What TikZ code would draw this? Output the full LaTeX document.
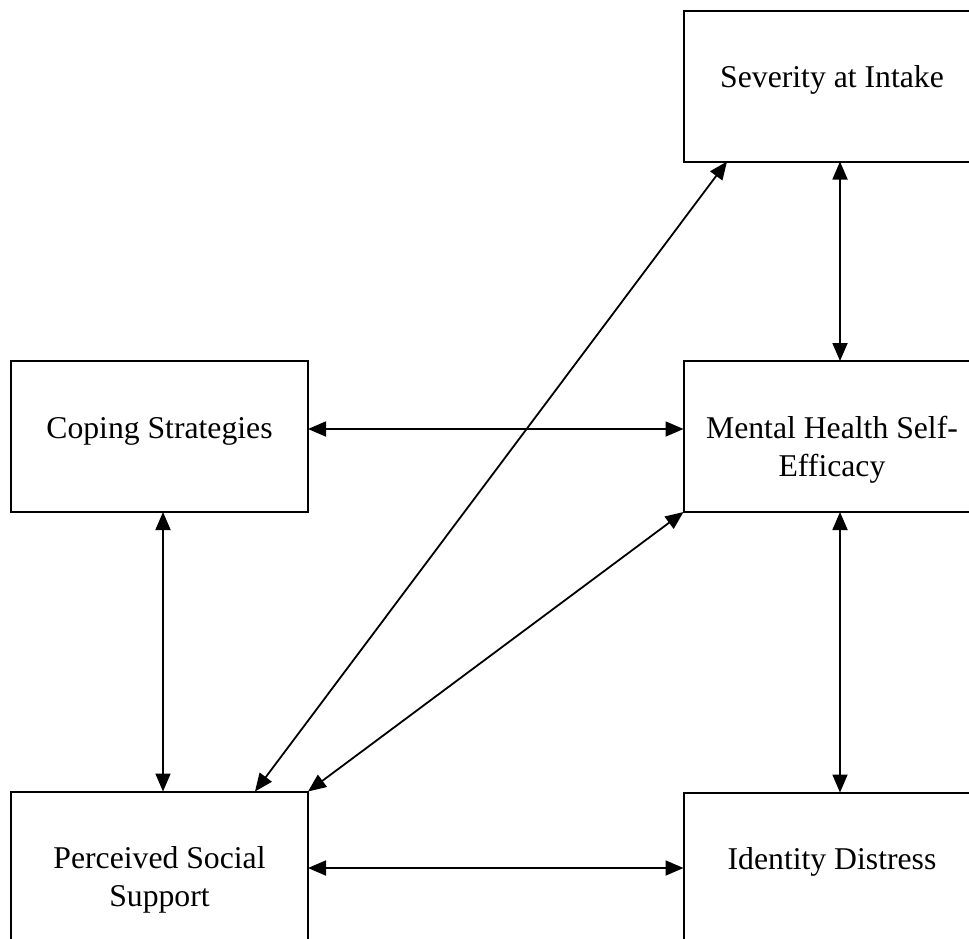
\documentclass[tikz,border=0pt]{standalone}
\usepackage{fontspec}
\setmainfont{Liberation Serif}
\usetikzlibrary{arrows.meta}
\newcommand{\boxtext}[1]{\parbox[c][151pt][t]{297pt}{\centering\fontsize{31.7pt}{38pt}\selectfont\rule{0pt}{77pt}#1}}
\begin{document}
\begin{tikzpicture}[x=1pt,y=-1pt,
  box/.style={draw, line width=2pt, inner sep=0pt, outer sep=0pt},
  link/.style={{Triangle[length=18pt,width=15pt]}-{Triangle[length=18pt,width=15pt]}, line width=1.8pt}]
\useasboundingbox (0,0) rectangle (969,938);
\clip (0,0) rectangle (969,938);
\fill[white] (0,0) rectangle (969,938);
\node[box] (sev) at (832,86) {\boxtext{Severity at Intake}};
\node[box] (cop) at (159.5,436.5) {\boxtext{Coping Strategies}};
\node[box] (mhs) at (832,436.5) {\boxtext{Mental Health Self-\\Efficacy}};
\node[box] (pss) at (159.5,867) {\boxtext{Perceived Social\\Support}};
\node[box] (idd) at (832,868) {\boxtext{Identity Distress}};
\draw[link] ([xshift=8pt]sev.south) -- ([xshift=8pt]mhs.north);
\draw[link] ([yshift=7.5pt]cop.east) -- ([yshift=7.5pt]mhs.west);
\draw[link] ([xshift=3.5pt]cop.south) -- ([xshift=3.5pt]pss.north);
\draw[link] ([xshift=8pt]mhs.south) -- ([xshift=8pt]idd.north);
\draw[link] ([yshift=-1pt]pss.east) -- (idd.west);
\draw[link] ([xshift=95.5pt]pss.north) -- ([xshift=-105pt]sev.south);
\draw[link] (pss.north east) -- (mhs.south west);
\end{tikzpicture}
\end{document}
